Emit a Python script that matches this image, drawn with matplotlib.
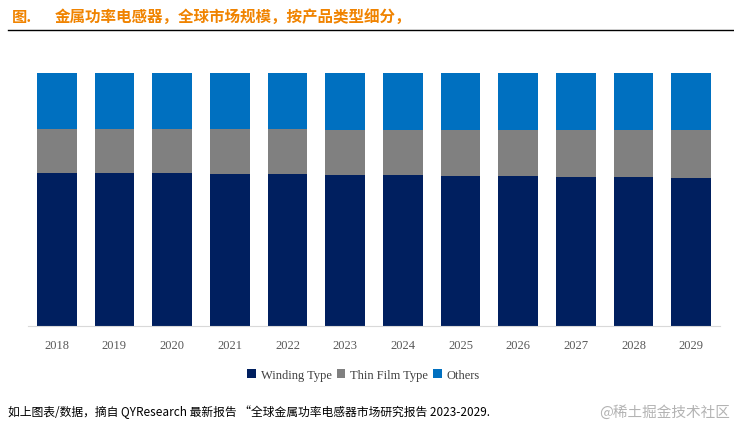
import matplotlib
matplotlib.use("Agg")
from matplotlib import pyplot as plt
from matplotlib.lines import Line2D
import numpy as np

plt.rcParams['font.family'] = ['Noto Sans CJK SC', 'DejaVu Sans']

# data (shares of global market, %)
years = ["2018", "2019", "2020", "2021", "2022", "2023",
         "2024", "2025", "2026", "2027", "2028", "2029"]
winding = [60.5, 60.5, 60.5, 60.1, 60.1, 59.7, 59.7, 59.4, 59.4, 58.9, 58.9, 58.5]
others = [22.1, 22.1, 22.1, 22.1, 22.1, 22.5, 22.5, 22.5, 22.5, 22.5, 22.5, 22.5]
thin_film = [100 - w - o for w, o in zip(winding, others)]

series_names = ["Winding Type", "Thin Film Type", "Others"]
colors = ["#001F5F", "#808080", "#0070C0"]

fig = plt.figure(figsize=(7.34, 4.31), dpi=100)
ax = fig.add_axes([0.038, 0.241, 0.943, 0.587])

x = np.arange(len(years))
bottom = np.zeros(len(years))
for name, vals, c in zip(series_names, [winding, thin_film, others], colors):
    ax.bar(x, vals, width=0.69, bottom=bottom, color=c, label=name)
    bottom += np.array(vals)

ax.set_xlim(-0.5, len(years) - 0.5)
ax.set_ylim(0, 100)
ax.set_xticks(x)
ax.set_xticklabels(years, family="Liberation Serif", fontsize=9, color="#595959")
ax.tick_params(axis="x", length=0, pad=9)
ax.set_yticks([])
for s in ["top", "right", "left"]:
    ax.spines[s].set_visible(False)
ax.spines["bottom"].set_color("#d9d9d9")

leg = ax.legend(loc="upper center", bbox_to_anchor=(0.485, -0.125), ncol=3, frameon=False,
                handlelength=0.7, handleheight=0.7, handletextpad=0.4, columnspacing=0.4,
                prop={"family": "Liberation Serif", "size": 9})
for t in leg.get_texts():
    t.set_color("#404040")

# header
fig.text(0.016, 0.960, "图.", color="#F08300", fontsize=11, fontweight="bold", va="center")
fig.text(0.075, 0.960, "金属功率电感器，全球市场规模，按产品类型细分，", color="#F08300",
         fontsize=11.2, fontweight="bold", va="center")
fig.add_artist(Line2D([0.011, 1.0], [0.928, 0.928], color="black", lw=1.0,
                      transform=fig.transFigure))

# footer
fig.text(0.011, 0.044, "如上图表/数据，摘自 QYResearch 最新报告 “全球金属功率电感器市场研究报告 2023-2029.",
         fontsize=8.5, style="italic", va="center", color="black")
fig.text(0.995, 0.044, "@稀土掘金技术社区", fontsize=10.5, va="center", ha="right", color="#b3b3b3")

fig.savefig("out.png", dpi=100)
